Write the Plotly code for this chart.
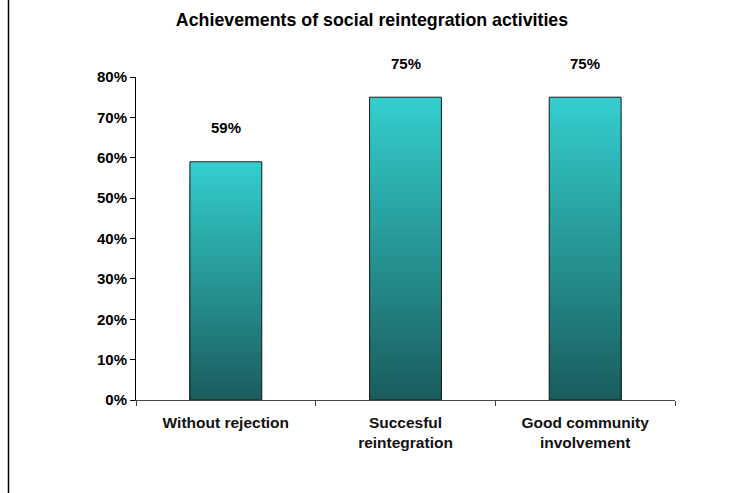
import plotly.graph_objects as go

categories = ["Without rejection", "Succesful<br>reintegration", "Good community<br>involvement"]
values = [0.59, 0.75, 0.75]
value_labels = ["59%", "75%", "75%"]
y_ticks = [0, 0.1, 0.2, 0.3, 0.4, 0.5, 0.6, 0.7, 0.8]
y_tick_labels = ["0%", "10%", "20%", "30%", "40%", "50%", "60%", "70%", "80%"]
title_text = "Achievements of social reintegration activities"

FONT = "Liberation Sans, Arial, sans-serif"
bottom_rgb = (26, 92, 92)
top_rgb = (52, 207, 207)
N = 80

fig = go.Figure()
# gradient: nested bars from full height (top colour) down to the smallest (bottom colour)
for k in range(N):
    level = N - k  # segments remaining
    t = (level - 0.5) / N
    c = tuple(round(bottom_rgb[j] + (top_rgb[j] - bottom_rgb[j]) * t) for j in range(3))
    fig.add_trace(go.Bar(
        x=categories,
        y=[v * level / N for v in values],
        marker=dict(color=f"rgb{c}", line=dict(width=0)),
        width=0.4,
        hoverinfo="skip",
        showlegend=False,
    ))

# outline
fig.add_trace(go.Bar(
    x=categories,
    y=values,
    marker=dict(color="rgba(0,0,0,0)", line=dict(color="#1e1e1e", width=1)),
    width=0.4,
    hoverinfo="skip",
    showlegend=False,
))

for cat, v, lab in zip(categories, values, value_labels):
    fig.add_annotation(
        x=cat, y=v, text=f"<b>{lab}</b>", showarrow=False, yshift=34,
        font=dict(family=FONT, size=15, color="black"),
    )

fig.update_layout(
    barmode="overlay",
    width=750, height=493,
    margin=dict(l=136, r=75, t=77, b=93),
    paper_bgcolor="white", plot_bgcolor="white",
    title=dict(text=f"<b>{title_text}</b>", x=0.496, xanchor="center",
               y=1 - 20 / 493, yanchor="middle",
               font=dict(family=FONT, size=17.8, color="black")),
    font=dict(family=FONT, color="black"),
    xaxis=dict(
        type="category", tickson="boundaries", ticks="outside", ticklen=5,
        tickcolor="#444", showline=True, linecolor="#444", linewidth=1,
        showgrid=False, tickfont=dict(family=FONT, size=15.5, color="#111"),
        ticklabelstandoff=8,
    ),
    yaxis=dict(
        range=[0, 0.8], tickvals=y_ticks, ticktext=[f"<b>{t}</b>" for t in y_tick_labels],
        ticks="outside", ticklen=5, tickcolor="black", showline=True,
        linecolor="black", linewidth=1, showgrid=False, zeroline=False,
        tickfont=dict(family=FONT, size=15, color="black"),
    ),
)
fig.update_xaxes(ticktext=[f"<b>{c}</b>" for c in categories], tickvals=categories)

# left frame line of the chart area
fig.add_shape(type="line", xref="paper", yref="paper",
              x0=(8.5 - 136) / 539, x1=(8.5 - 136) / 539,
              y0=-93 / 323 - 0.01, y1=1 + 77 / 323 + 0.01,
              line=dict(color="black", width=1.5))

fig.write_html(
    "out.html",
    config={"displayModeBar": False},
    post_script="document.body.style.margin='0';document.body.style.padding='0';",
)
